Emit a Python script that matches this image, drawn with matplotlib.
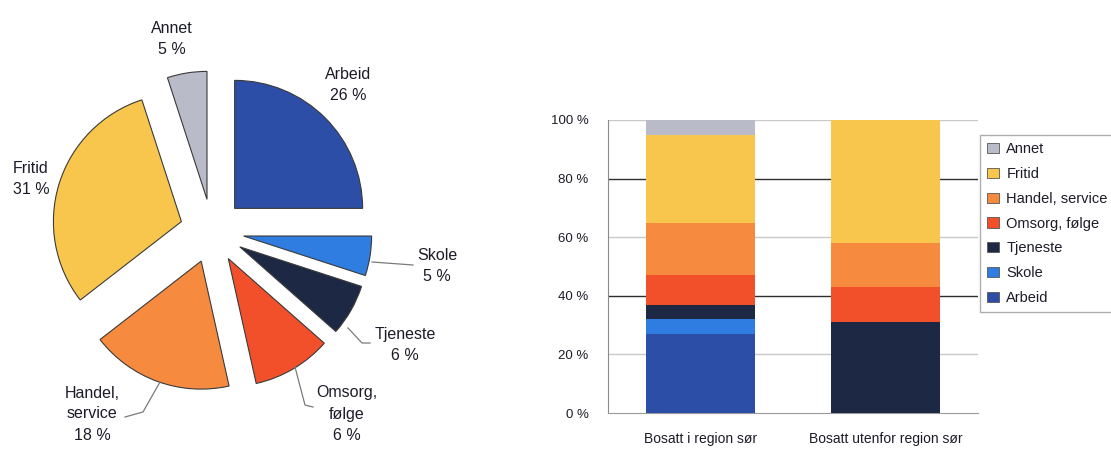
import matplotlib
matplotlib.use("Agg")
import matplotlib.pyplot as plt
import numpy as np

plt.rcParams['font.family'] = ['Liberation Sans', 'DejaVu Sans']

# ---------------- data ----------------
categories = ["Arbeid", "Skole", "Tjeneste", "Omsorg, følge",
              "Handel, service", "Fritid", "Annet"]
pie_names = ["Arbeid", "Skole", "Tjeneste", "Omsorg,\nfølge",
             "Handel,\nservice", "Fritid", "Annet"]
pie_values = [25, 5, 6.5, 10, 18, 30.5, 5]        # slice sizes as drawn
pie_pct_labels = [26, 5, 6, 6, 18, 31, 5]         # printed labels

bar_groups = ["Bosatt i region sør", "Bosatt utenfor region sør"]
bar_region = [27, 5, 5, 10, 18, 30, 5]
bar_outside = [0, 0, 31, 12, 15, 42, 0]

y_ticks = [0, 20, 40, 60, 80, 100]

colors = ["#2c4ea6", "#2f7de0", "#1d2944", "#f2502b",
          "#f68b3f", "#f8c64c", "#b9bbc9"]

W, H = 1111, 450
fig = plt.figure(figsize=(W / 100, H / 100), dpi=100)
fig.patch.set_facecolor("white")
text_color = "#1c1c28"

# ---------------- pie ----------------
axp = fig.add_axes([0, 0, 450 / W, 1])
cx, cy, r = 212, H - 231, 128
wedges, _ = axp.pie(pie_values, colors=colors, startangle=90,
                    counterclock=False, explode=[32] * len(pie_values),
                    center=(cx, cy), radius=r,
                    wedgeprops=dict(edgecolor="#3a3a3a", linewidth=0.8))
axp.set_xlim(0, 450)
axp.set_ylim(0, 450)
axp.set_aspect("equal")
axp.axis("off")

label_pos = {  # pixel positions (x, y from top) of label centres
    "Arbeid": (348, 85),
    "Skole": (437, 266),
    "Tjeneste": (405, 345),
    "Omsorg,\nfølge": (347, 414),
    "Handel,\nservice": (92, 414),
    "Fritid": (31, 179),
    "Annet": (172, 39),
}
for name, pct in zip(pie_names, pie_pct_labels):
    x, y = label_pos[name]
    axp.text(x, H - y, f"{name}\n{pct} %", ha="center", va="center",
             fontsize=11.5, color=text_color, linespacing=1.5)

leaders = [
    [(372, 262), (413, 265)],
    [(348, 328), (362, 343), (370, 343)],
    [(295, 367), (305, 405), (313, 407)],
    [(160, 382), (143, 412), (125, 417)],
]
for pts in leaders:
    xs = [p[0] for p in pts]
    ys = [H - p[1] for p in pts]
    axp.plot(xs, ys, color="#7a7a7a", lw=0.9)

# ---------------- stacked bars ----------------
axb = fig.add_axes([608 / W, 1 - 413 / H, 370 / W, 293 / H])
x = np.arange(len(bar_groups))
bottoms = np.zeros(len(bar_groups))
handles = []
for i, cat in enumerate(categories):
    vals = np.array([bar_region[i], bar_outside[i]], dtype=float)
    h = axb.bar(x, vals, bottom=bottoms, width=0.585, color=colors[i],
                label=cat, zorder=3, linewidth=0)
    handles.append(h)
    bottoms += vals

axb.set_xlim(-0.5, 1.5)
axb.set_ylim(0, 100)
axb.set_yticks(y_ticks)
axb.set_yticklabels([f"{t} %" for t in y_ticks])
axb.set_xticks(x)
axb.set_xticklabels(bar_groups)
axb.tick_params(axis="y", length=0, pad=14, labelsize=9.5, colors=text_color)
axb.tick_params(axis="x", length=0, pad=14, labelsize=10, colors=text_color)

grid_colors = {20: "#c9c9c9", 40: "#2e2e2e", 60: "#c9c9c9",
               80: "#2e2e2e", 100: "#c9c9c9"}
for t, c in grid_colors.items():
    axb.axhline(t, color=c, lw=1.0, zorder=1)

for s in ["top", "right"]:
    axb.spines[s].set_visible(False)
axb.spines["left"].set_color("#8a8a8a")
axb.spines["bottom"].set_color("#9a9a9a")

leg = fig.legend(handles[::-1], categories[::-1], loc="upper left",
                 bbox_to_anchor=(980 / W, 1 - 135 / H), frameon=True,
                 fancybox=False, edgecolor="#9a9a9a", fontsize=10.5,
                 handlelength=0.8, handleheight=0.7, handletextpad=0.5,
                 labelspacing=0.74, borderpad=0.5, borderaxespad=0)
for t in leg.get_texts():
    t.set_color(text_color)
for p in leg.get_patches():
    p.set_edgecolor("#555555")
    p.set_linewidth(0.6)

fig.savefig("out.png", dpi=100)
